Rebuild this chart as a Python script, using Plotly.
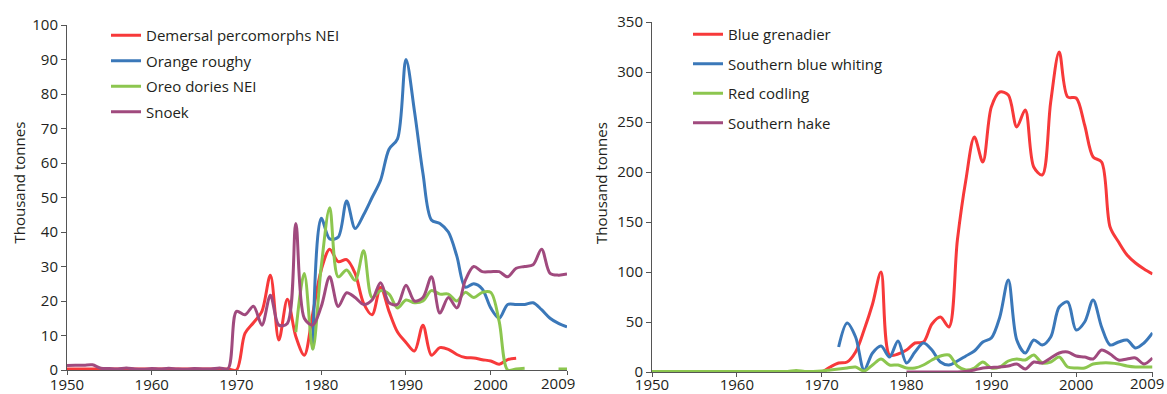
import plotly.graph_objects as go

years = list(range(1950, 2010))
N = None

# ---------- Left panel (thousand tonnes) ----------
demersal = ([0.3] * 20 +  # 1950-1969
            [0, 10.6, 13.7, 17, 27.5, 8.7, 20.5, 9.7, 4.3, 16.4,      # 1970-1979
             29, 35, 31.4, 32, 28, 19.3, 16, 24, 17, 11,              # 1980-1989
             8, 5.5, 13, 4.3, 6.5, 6, 4.5, 3.6, 3.5, 3,               # 1990-1999
             2.6, 1.7, 3, 3.4, N, N, N, N, N, N])                     # 2000-2009
orange_roughy = ([N] * 29 +  # 1950-1978
                 [6,                                                  # 1979
                  44, 38, 38.5, 49, 41, 45, 50, 55, 64, 67,           # 1980-1989
                  90, 75, 57, 43.5, 42.5, 40, 33, 24, 25, 23.5,       # 1990-1999
                  18, 15, 19, 19, 19, 19.5, 17.5, 15, 13.5, 12.5])    # 2000-2009
oreo = ([N] * 27 +  # 1950-1976
        [11, 28, 6,                                                   # 1977-1979
         30, 47, 27, 29, 26, 34.6, 21, 23, 22, 18,                    # 1980-1989
         20.3, 19.5, 20, 23, 22, 22, 20, 22.5, 21, 22.5,              # 1990-1999
         22.5, 14, 0, 0.3, 0.5, N, N, N, 0.3, 0.3])                   # 2000-2009
snoek = [1.3, 1.4, 1.4, 1.5, 0.5, 0.4, 0.3, 0.6, 0.3, 0.2,           # 1950-1959
         0.4, 0.3, 0.5, 0.3, 0.2, 0.4, 0.3, 0.3, 0.6, 0.4,            # 1960-1969
         17, 16, 18.5, 13, 21.7, 13, 13.5, 42.5, 15, 13,              # 1970-1979
         18.4, 27, 18.4, 22.4, 21, 19, 20.3, 25.3, 19.5, 19,          # 1980-1989
         24.6, 20, 21, 27, 16.5, 21, 18, 26, 30, 28.5,                # 1990-1999
         28.5, 28.5, 27, 29.5, 30, 30.5, 35, 28, 27.5, 27.8]          # 2000-2009

# ---------- Right panel (thousand tonnes) ----------
blue_grenadier = ([0] * 21 +  # 1950-1970
                  [5, 9, 10, 20, 42, 68, 100, 17, 18,                 # 1971-1979
                   22, 29, 30, 48, 55, 45, 132, 192, 235, 210,        # 1980-1989
                   265, 280, 277, 245, 262, 205, 197, 270, 320, 275,  # 1990-1999
                   274, 247, 215, 210, 145, 130, 117, 109, 103, 98])  # 2000-2009
southern_blue_whiting = ([N] * 22 +  # 1950-1971
                         [25, 49, 35, 2, 19, 26, 15, 31,              # 1972-1979
                          9, 20, 29, 22, 10, 7, 11, 16, 21, 30,       # 1980-1989
                          34, 55, 92, 32, 19, 32, 27, 35, 65, 70,     # 1990-1999
                          42, 50, 72, 45, 27, 30, 32, 24, 29, 39])    # 2000-2009
red_codling = ([0.5] * 17 +  # 1950-1966
               [1.5, 0.5, 0.5,                                        # 1967-1969
                1, 2, 3, 4, 5, 1, 7, 13, 7, 7,                        # 1970-1979
                4, 4, 7, 12, 16, 17, 6, 2, 4, 10,                     # 1980-1989
                4, 5, 11, 13, 12, 17, 9, 10, 15, 5,                   # 1990-1999
                4, 4, 8, 9, 9, 8, 6, 5, 5, 5])                        # 2000-2009
southern_hake = ([N] * 30 +  # 1950-1979
                 [0, 0, 0, 0, 0, 0, 0, 0.5, 2, 4,                     # 1980-1989
                  4.5, 5, 6, 8, 3, 10, 9, 14, 19, 20,                 # 1990-1999
                  16, 15, 13, 22, 18, 12, 13, 14, 8, 14])             # 2000-2009

left_names = ["Demersal percomorphs NEI", "Orange roughy", "Oreo dories NEI", "Snoek"]
right_names = ["Blue grenadier", "Southern blue whiting", "Red codling", "Southern hake"]
colors = ["#f7393a", "#3b78b9", "#8cc64f", "#a04a7e"]
x_tickvals = [1950, 1960, 1970, 1980, 1990, 2000, 2009]
x_ticktext = ["1950", "1960", "1970", "1980", "1990", "2000", ""]
last_year_label = "2009"

FONT = "Open Sans"
TXT = "#231f20"
AX = "#555555"
W, H = 1167, 394

fig = go.Figure()
for name, vals, col in zip(left_names, [demersal, orange_roughy, oreo, snoek], colors):
    fig.add_trace(go.Scatter(x=years, y=vals, name=name, mode="lines",
                             line=dict(color=col, width=3, shape="spline", smoothing=0.9),
                             xaxis="x", yaxis="y", legend="legend", legendgroup="L" + name))
for name, vals, col in zip(right_names, [blue_grenadier, southern_blue_whiting, red_codling, southern_hake], colors):
    fig.add_trace(go.Scatter(x=years, y=vals, name=name, mode="lines",
                             line=dict(color=col, width=3, shape="spline", smoothing=0.9),
                             xaxis="x2", yaxis="y2", legend="legend2", legendgroup="R" + name))

def px_x(p):
    return p / W

def px_y(p):
    return (H - p) / H

common_x = dict(range=[1950, 2009], tickmode="array", tickvals=x_tickvals, ticktext=x_ticktext,
                showline=True, linecolor=AX, linewidth=1, ticks="outside", ticklen=4,
                tickcolor=AX, showgrid=False, zeroline=False, automargin=False,
                tickfont=dict(family=FONT, size=15, color=TXT))
common_y = dict(showline=True, linecolor=AX, linewidth=1, ticks="outside", ticklen=5,
                tickcolor=AX, showgrid=False, zeroline=False, automargin=False,
                tickfont=dict(family=FONT, size=15, color=TXT))

fig.update_layout(
    width=W, height=H, margin=dict(l=0, r=0, t=0, b=0),
    paper_bgcolor="white", plot_bgcolor="white",
    xaxis=dict(domain=[px_x(67), px_x(567)], anchor="y", ticklabelstandoff=-3, **common_x),
    yaxis=dict(domain=[px_y(370), px_y(25)], anchor="x", range=[0, 100], dtick=10, **common_y),
    xaxis2=dict(domain=[px_x(652), px_x(1152.5)], anchor="y2", ticklabelstandoff=-5, **common_x),
    yaxis2=dict(domain=[px_y(372), px_y(22)], anchor="x2", range=[0, 350], dtick=50, **common_y),
    legend=dict(x=px_x(106), y=px_y(19), xanchor="left", yanchor="top",
                bgcolor="rgba(0,0,0,0)", tracegroupgap=3,
                font=dict(family=FONT, size=15, color=TXT)),
    legend2=dict(x=px_x(688), y=px_y(18), xanchor="left", yanchor="top",
                 bgcolor="rgba(0,0,0,0)", tracegroupgap=7,
                 font=dict(family=FONT, size=15, color=TXT)),
    annotations=[
        dict(text="Thousand tonnes", x=px_x(18.5), y=px_y(183), xref="paper", yref="paper",
             textangle=-90, showarrow=False, font=dict(family=FONT, size=15, color=TXT),
             xanchor="center", yanchor="middle"),
        dict(text="Thousand tonnes", x=px_x(601), y=px_y(183), xref="paper", yref="paper",
             textangle=-90, showarrow=False, font=dict(family=FONT, size=15, color=TXT),
             xanchor="center", yanchor="middle"),
        dict(text=last_year_label, x=x_tickvals[-1], xref="x", y=px_y(383), yref="paper",
             showarrow=False, xshift=-9, font=dict(family=FONT, size=15, color=TXT),
             xanchor="center", yanchor="middle"),
        dict(text=last_year_label, x=x_tickvals[-1], xref="x2", y=px_y(383), yref="paper",
             showarrow=False, xshift=-6, font=dict(family=FONT, size=15, color=TXT),
             xanchor="center", yanchor="middle"),
    ],
)

fig.write_html("out.html")
